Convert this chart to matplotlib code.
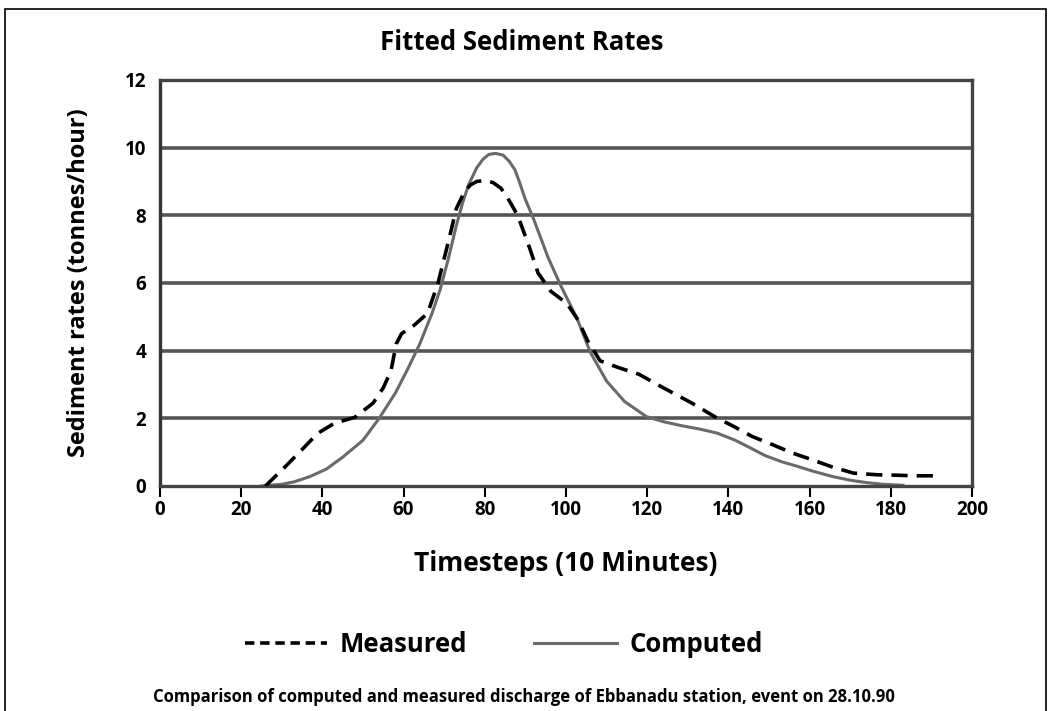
import matplotlib
matplotlib.use('Agg')
import matplotlib.pyplot as plt
from matplotlib.patches import Rectangle

plt.rcParams['font.family'] = ['Open Sans', 'DejaVu Sans']

# Computed (solid) curve
computed_t = [25, 30, 33, 37, 41, 45, 50, 54, 58, 61, 64, 67, 69, 71, 73, 74.5, 76, 78, 79.5,
              81, 82.7, 84.5, 86, 87.4, 88.5, 89.9, 92, 95.6, 98.8, 102.7, 106, 110, 114.4,
              119.8, 124, 128.5, 133, 137.3, 141.7, 145, 149, 153, 157, 161, 165.6, 170,
              174, 178, 183]
computed_v = [0.0, 0.05, 0.12, 0.28, 0.5, 0.85, 1.35, 2.0, 2.75, 3.45, 4.2, 5.1, 5.8, 6.7, 7.7,
              8.35, 8.9, 9.4, 9.65, 9.8, 9.83, 9.78, 9.6, 9.35, 9.0, 8.5, 7.9, 6.75, 5.9, 4.96,
              3.95, 3.1, 2.5, 2.05, 1.9, 1.78, 1.68, 1.56, 1.35, 1.15, 0.9, 0.72, 0.58, 0.43,
              0.28, 0.17, 0.1, 0.05, 0.02]

# Measured (dashed) curve
measured_t = [26, 30.7, 34.8, 38.8, 42.9, 48, 52.5, 55, 56.9, 58.2, 59.5, 62.6, 65.9, 68.5,
              71.1, 73, 75, 76.5, 78, 80, 82, 84, 85.7, 88.1, 91, 93.1, 96.3, 100.2, 103,
              105.3, 108.4, 112.9, 118, 124, 131, 137.3, 141, 145.9, 150.7, 155.6, 160.5,
              165.6, 170.8, 176.7, 181, 186, 191]
measured_v = [0.0, 0.55, 1.05, 1.55, 1.85, 2.03, 2.45, 2.9, 3.4, 4.2, 4.5, 4.75, 5.1, 6.0,
              7.25, 8.2, 8.7, 8.9, 9.0, 9.03, 8.97, 8.8, 8.5, 8.0, 7.05, 6.3, 5.75, 5.4, 4.9,
              4.3, 3.7, 3.5, 3.3, 2.9, 2.45, 2.0, 1.78, 1.46, 1.23, 0.98, 0.78, 0.56, 0.38,
              0.33, 0.32, 0.3, 0.3]

x_ticks = [0, 20, 40, 60, 80, 100, 120, 140, 160, 180, 200]
y_ticks = [0, 2, 4, 6, 8, 10, 12]

fig = plt.figure(figsize=(10.52, 7.11), dpi=100)
ax = fig.add_axes([0.152, 0.3165, 0.772, 0.571])

for y in y_ticks[1:-1]:
    ax.axhline(y, color='#555555', linewidth=2.6, zorder=1)

ax.plot(measured_t, measured_v, color='black', linestyle=(0, (4.5, 2.5)), linewidth=2.6,
        zorder=3, label='Measured')
ax.plot(computed_t, computed_v, color='#6a6a6a', linewidth=2.2, zorder=2, label='Computed')

ax.set_xlim(0, 200)
ax.set_ylim(0, 12)
ax.set_xticks(x_ticks)
ax.set_yticks(y_ticks)
ax.tick_params(axis='x', direction='out', length=8, width=1.5, labelsize=13.5, pad=2)
ax.tick_params(axis='y', length=0, labelsize=13.5, pad=10)
for lab in ax.get_xticklabels() + ax.get_yticklabels():
    lab.set_fontweight('bold')

for side in ['top', 'bottom', 'right']:
    ax.spines[side].set_color('#444444')
    ax.spines[side].set_linewidth(2.4)
ax.spines['left'].set_color('#333333')
ax.spines['left'].set_linewidth(2.4)

ax.set_xlabel('Timesteps (10 Minutes)', fontsize=19, fontweight='bold', labelpad=22)
ax.set_ylabel('Sediment rates (tonnes/hour)', fontsize=17, fontweight='bold', labelpad=24)
fig.text(0.496, 0.94, 'Fitted Sediment Rates', fontsize=18.5, fontweight='bold',
         ha='center', va='center')

leg = fig.legend(loc='center', bbox_to_anchor=(0.479, 0.093), ncol=2, frameon=False,
                 handlelength=3.2, handletextpad=0.5, columnspacing=2.6,
                 prop={'weight': 'bold', 'size': 18.5})
leg.get_lines()[0].set_linestyle((0, (2.6, 1.6)))

fig.text(0.498, 0.02, 'Comparison of computed and measured discharge of Ebbanadu station, event on 28.10.90',
         fontsize=12, fontweight='bold', ha='center', va='center')

# page frame
fig.patches.append(Rectangle((0.005, -0.1), 0.989, 1.088, transform=fig.transFigure,
                             fill=False, edgecolor='black', linewidth=1.2))

fig.savefig('out.png', dpi=100)
